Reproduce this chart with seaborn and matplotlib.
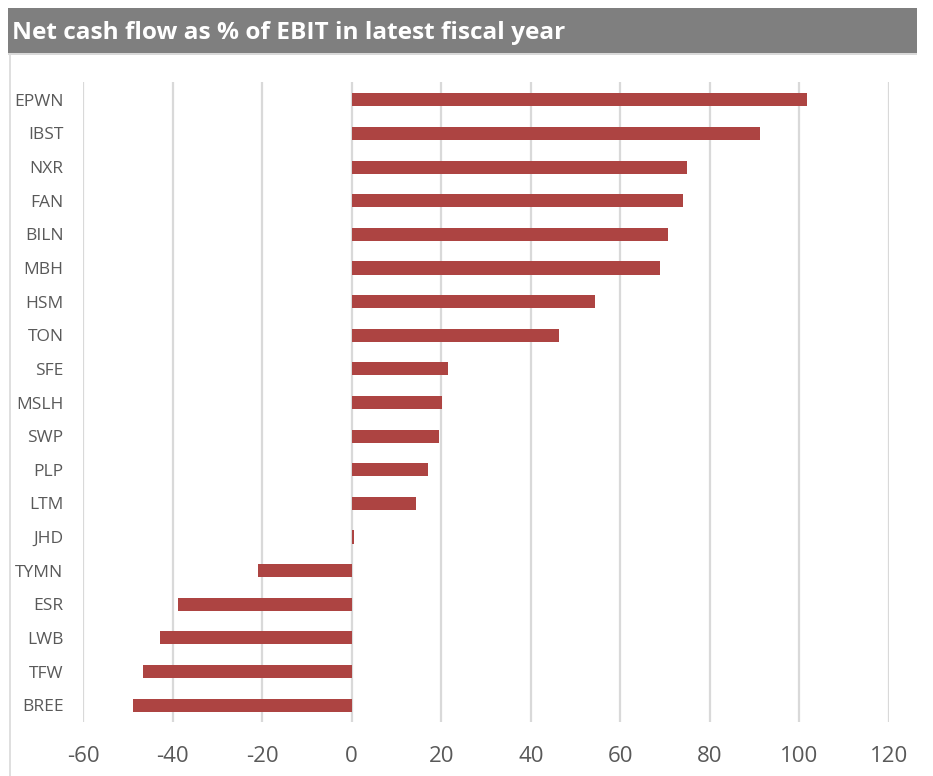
import matplotlib
matplotlib.use("Agg")
import matplotlib.pyplot as plt
from matplotlib.patches import Rectangle
import seaborn as sns
import pandas as pd

# Net cash flow as % of EBIT, latest fiscal year
tickers = ["EPWN", "IBST", "NXR", "FAN", "BILN", "MBH", "HSM", "TON", "SFE",
           "MSLH", "SWP", "PLP", "LTM", "JHD", "TYMN", "ESR", "LWB", "TFW", "BREE"]
cash_pct = [101.7, 91.1, 74.9, 73.9, 70.7, 68.8, 54.3, 46.3, 21.5,
            20.1, 19.4, 17.0, 14.3, 0.6, -21.0, -38.7, -42.9, -46.7, -48.9]
x_ticks = [-60, -40, -20, 0, 20, 40, 60, 80, 100, 120]

df = pd.DataFrame({"ticker": tickers, "pct": cash_pct})

sns.set_theme(style="white")
plt.rcParams["font.family"] = ["Open Sans", "DejaVu Sans"]

W, H = 933, 776
fig = plt.figure(figsize=(W / 100, H / 100), dpi=100)
fig.patch.set_facecolor("white")

# axes placed in pixel terms
left, right, top, bottom = 83, 889, 82, 722
ax = fig.add_axes([left / W, 1 - bottom / H, (right - left) / W, (bottom - top) / H])

sns.barplot(data=df, x="pct", y="ticker", orient="h", color="#AD4442",
            saturation=1, width=0.39, linewidth=0, ax=ax)

ax.set_xlim(-60, 120)
ax.set_ylim(len(tickers) - 0.5, -0.53)
ax.set_xticks(x_ticks)
ax.set_xticklabels([str(t) for t in x_ticks])
ax.grid(axis="x", color="#D9D9D9", linewidth=1.6)
ax.grid(axis="y", visible=False)
ax.set_axisbelow(True)
for s in ax.spines.values():
    s.set_visible(False)
ax.set_xlabel("")
ax.set_ylabel("")
ax.tick_params(axis="x", length=0, pad=17, labelsize=16, labelcolor="#595959")
ax.tick_params(axis="y", length=0, pad=14, labelsize=12.5, labelcolor="#595959")

# title banner
fig.patches.append(Rectangle((8 / W, 1 - 53 / H), (917 - 8) / W, 45 / H,
                             transform=fig.transFigure, facecolor="#7F7F7F",
                             edgecolor="none", zorder=0))
fig.patches.append(Rectangle((8 / W, 1 - 55 / H), (917 - 8) / W, 2 / H,
                             transform=fig.transFigure, facecolor="#D9D9D9",
                             edgecolor="none", zorder=0))
# left frame line
fig.add_artist(plt.Line2D([9.5 / W, 9.5 / W], [0, 1 - 55 / H], transform=fig.transFigure,
                          color="#D9D9D9", linewidth=1.2))
fig.text(12 / W, 1 - 33 / H, "Net cash flow as % of EBIT in latest fiscal year",
         color="white", fontsize=17.6, fontweight="bold", va="center", ha="left")

fig.savefig("out.png", dpi=100)
